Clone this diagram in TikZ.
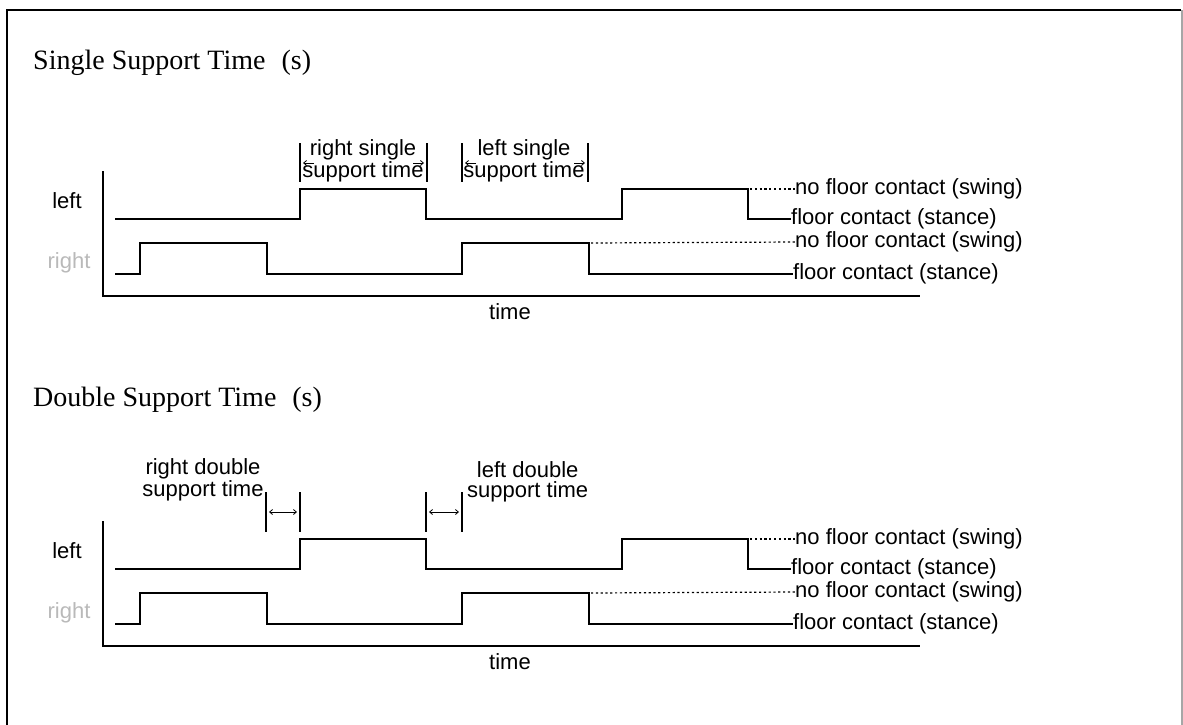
\documentclass[tikz,border=0pt]{standalone}
\usepackage{fontspec}
\usetikzlibrary{arrows.meta}
\newfontfamily\gaitsans{Liberation Sans}
\newfontfamily\gaitserif{Liberation Serif}
\newcommand{\lblfont}{\gaitsans\fontsize{22}{20}\selectfont}
\newcommand{\headfont}{\gaitserif\fontsize{28}{32}\selectfont}
\tikzset{
  frameline/.style={line width=2.5pt},
  trace/.style={line width=1.6pt},
  axisline/.style={line width=1.6pt},
  swingdots/.style={line width=1.2pt, dash pattern=on 2.2pt off 2.6pt},
  footlbl/.style={font=\lblfont, inner sep=0pt},
  statelbl/.style={font=\lblfont, inner sep=0pt, anchor=west},
  notelbl/.style={font=\lblfont, inner sep=0pt, align=center},
  heading/.style={font=\headfont, inner sep=0pt, anchor=west},
  marker/.style={line width=1.2pt},
  span/.style={{Straight Barb[length=3pt,width=5pt]}-{Straight Barb[length=3pt,width=5pt]}, line width=0.8pt},
  halfspan/.style={-{Straight Barb[length=3pt,width=5pt]}, line width=0.8pt},
  gaitchart/.pic={
    \draw[axisline] (103,171) -- (103,296) -- (920,296);
    \node[footlbl] (-time) at (510,312) {time};
    \node[footlbl] (-left) at (67,201) {left};
    \node[footlbl, text=gray!55] (-right) at (69,263) {right};
    \node[statelbl] (-lswing) at (795,189) {no floor contact (swing)};
    \node[statelbl] (-lstance) at (791,219) {floor contact (stance)};
    \node[statelbl] (-rswing) at (795,242) {no floor contact (swing)};
    \node[statelbl] (-rstance) at (793,274) {floor contact (stance)};
    \draw[trace] (115,219) -| (300,189) -| (426,219) -| (622,189) -| (748,219) -- (-lstance.west);
    \draw[trace] (115,274) -| (140,243) -| (267,274) -| (462,243) -| (589,274) -- (-rstance.west);
    \draw[swingdots] (750,189) -- (-lswing.west);
    \draw[swingdots] (591,243) -- (-rswing.west);
  }
}

\begin{document}
\begin{tikzpicture}[x=1pt,y=-1pt]
  \useasboundingbox (0,0) rectangle (1183,725);
  \draw[frameline] (7,725) -- (7,10) -- (1181,10);
  \draw[gray!70, line width=1.5pt] (1182,10) -- (1182,725);

  \node[heading] (singletitle) at (33,63) {Single Support Time\hspace{16pt}(s)};
  \pic (single) at (0,0) {gaitchart};
  \draw[marker] (300,143) -- (300,182);
  \draw[marker] (427,143) -- (427,182);
  \draw[marker] (462,143) -- (462,182);
  \draw[marker] (588,143) -- (588,182);
  \node[notelbl] (rsingle) at (363,161) {right single\\support time};
  \node[notelbl] (lsingle) at (524,161) {left single\\support time};
  \draw[halfspan] (314,163) -- (303,163);
  \draw[halfspan] (413,163) -- (424,163);
  \draw[halfspan] (476,163) -- (465,163);
  \draw[halfspan] (574,163) -- (585,163);

  \node[heading] (doubletitle) at (33,400) {Double Support Time\hspace{16pt}(s)};
  \pic (double) at (0,350) {gaitchart};
  \draw[marker] (266,492) -- (266,532);
  \draw[marker] (300,492) -- (300,532);
  \draw[marker] (426,492) -- (426,532);
  \draw[marker] (462,492) -- (462,532);
  \draw[span] (269,512) -- (297,512);
  \draw[span] (429,512) -- (459,512);
  \node[notelbl] (rdouble) at (203,480) {right double\\support time};
  \node[notelbl, anchor=west] (ldouble) at (467,482) {left double\\support time};
\end{tikzpicture}
\end{document}
